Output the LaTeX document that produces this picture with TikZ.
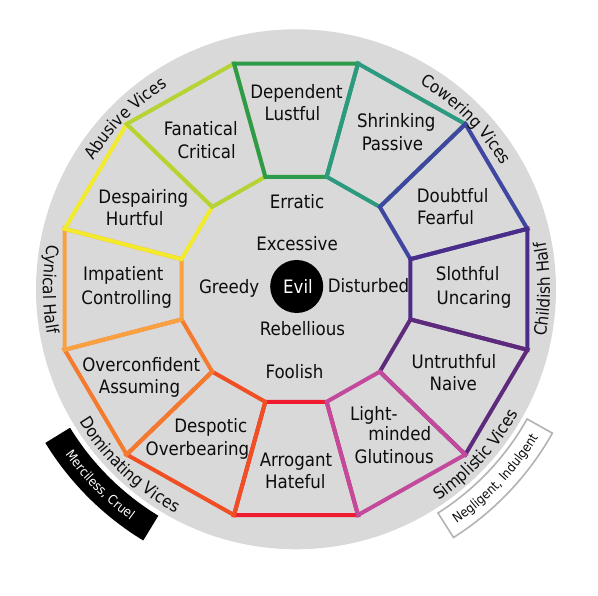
\documentclass[tikz,border=0pt]{standalone}
\usepackage{fontspec}
\setmainfont{DejaVu Sans Condensed}
\usetikzlibrary{decorations.text}
\definecolor{disk}{HTML}{D9D9D9}
\definecolor{ink}{HTML}{0D0D0D}
\definecolor{bandline}{HTML}{B3B3B3}
\definecolor{cDep}{HTML}{2E9B4A}
\definecolor{cShr}{HTML}{2B9A7E}
\definecolor{cDou}{HTML}{3F47A0}
\definecolor{cSlo}{HTML}{4A2C8A}
\definecolor{cUnt}{HTML}{5E2A7C}
\definecolor{cLig}{HTML}{C2499C}
\definecolor{cArr}{HTML}{EE1C2E}
\definecolor{cDes}{HTML}{F04E23}
\definecolor{cOvc}{HTML}{F47A2D}
\definecolor{cImp}{HTML}{F9A040}
\definecolor{cDsp}{HTML}{F3EA2B}
\definecolor{cFan}{HTML}{B5D334}
\newcommand\mainsize{\fontsize{18.5}{22}\selectfont}
\newcommand\rimsize{\fontsize{17}{20}\selectfont}
\newcommand\bandsize{\fontsize{13}{15}\selectfont}
\tikzset{
  cell/.style={line width=4pt, line join=miter},
  lbl/.style={font=\mainsize, anchor=base, inner sep=0pt, text=ink},
  rimtext/.style={decorate, decoration={text along path, text align=center, text={|\rimsize\color{ink}|#1}}},
  bandtext/.style 2 args={decorate, decoration={text along path, text align=center, text={|\bandsize\color{#1}|#2}}},
}
\begin{document}
\begin{tikzpicture}[x=1pt,y=1pt]
\useasboundingbox (-296,-306.7) rectangle (302,289.3);
% disk
\fill[disk] (0,0) circle[radius=260pt];
% side bands
\fill[black] (211.5:265) arc[start angle=211.5,end angle=238.7,radius=265pt]
  -- (238.7:294) arc[start angle=238.7,end angle=211.5,radius=294pt] -- cycle;
\filldraw[fill=white, draw=bandline, line width=1.6pt] (302.4:265) arc[start angle=302.4,end angle=330.7,radius=265pt]
  -- (330.7:294) arc[start angle=330.7,end angle=302.4,radius=294pt] -- cycle;
% dodecagon cells
\foreach \a/\c in {-105/cArr,-135/cDes,-165/cOvc,165/cImp,135/cDsp,105/cFan,75/cDep,45/cShr,15/cDou,-15/cSlo,-45/cUnt,-75/cLig}{
  \draw[cell, draw=\c] ({239.5*cos(\a)},{233.7*sin(\a)}) -- ({239.5*cos(\a+30)},{233.7*sin(\a+30)})
    -- ({118.5*cos(\a+30)},{116.5*sin(\a+30)}) -- ({118.5*cos(\a)},{116.5*sin(\a)}) -- cycle;
}
% centre
\node[circle, fill=black, minimum size=53pt, inner sep=0pt] (evilc) at (0.7,2.8) {};
\node[lbl, text=white] (evil) at (2,-4.3) {Evil};
\node[lbl] (erratic) at (1,81.0) {Erratic};
\node[lbl] (excessive) at (1,38.7) {Excessive};
\node[lbl] (greedy) at (-66.8,-4.3) {Greedy};
\node[lbl] (disturbed) at (72.5,-3.3) {Disturbed};
\node[lbl] (rebellious) at (6.5,-46.3) {Rebellious};
\node[lbl] (foolish) at (-1.5,-89.3) {Foolish};
% cell labels
\node[lbl] (dep1) at (0.5,191.0) {Dependent};
\node[lbl] (dep2) at (-3.5,168.7) {Lustful};
\node[lbl] (shr1) at (100.3,161.4) {Shrinking};
\node[lbl] (shr2) at (96.5,139.0) {Passive};
\node[lbl] (dou1) at (156.7,86.9) {Doubtful};
\node[lbl] (dou2) at (149.5,64.5) {Fearful};
\node[lbl] (slo1) at (171.7,8.5) {Slothful};
\node[lbl] (slo2) at (178,-14.9) {Uncaring};
\node[lbl] (unt1) at (158,-78.8) {Untruthful};
\node[lbl] (unt2) at (157.3,-101.5) {Naive};
\node[lbl] (lig1) at (77.8,-130.8) {Light-};
\node[lbl] (lig2) at (103.7,-151.5) {minded};
\node[lbl] (lig3) at (98.2,-173.8) {Glutinous};
\node[lbl] (arr1) at (0,-177.5) {Arrogant};
\node[lbl] (arr2) at (-0.7,-199.5) {Hateful};
\node[lbl] (des1) at (-85.2,-143.6) {Despotic};
\node[lbl] (des2) at (-98.5,-166.1) {Overbearing};
\node[lbl] (ovc1) at (-154.7,-82.1) {Overconfident};
\node[lbl] (ovc2) at (-156.5,-104.1) {Assuming};
\node[lbl] (imp1) at (-172.7,8.5) {Impatient};
\node[lbl] (imp2) at (-169.3,-14.8) {Controlling};
\node[lbl] (dsp1) at (-152.7,86.0) {Despairing};
\node[lbl] (dsp2) at (-161.3,64.2) {Hurtful};
\node[lbl] (fan1) at (-95.2,153.5) {Fanatical};
\node[lbl] (fan2) at (-89.3,130.9) {Critical};
% rim labels
\path[rimtext={Abusive Vices}] (175:240) arc[start angle=175,end angle=95,radius=240pt];
\path[rimtext={Cowering Vices}] (85:240) arc[start angle=85,end angle=5,radius=240pt];
\path[rimtext={Childish Half}] (-40:254) arc[start angle=-40,end angle=40,radius=254pt];
\path[rimtext={Cynical Half}] (140:253) arc[start angle=140,end angle=220,radius=253pt];
\path[rimtext={Dominating Vices}] (186.5:254) arc[start angle=186.5,end angle=266.5,radius=254pt];
\path[rimtext={Simplistic Vices}] (-82.6:255) arc[start angle=-82.6,end angle=-2.6,radius=255pt];
\path[bandtext={white}{Merciless, Cruel}] (185:284) arc[start angle=185,end angle=265,radius=284pt];
\path[bandtext={ink}{Negligent, Indulgent}] (-83.5:284) arc[start angle=-83.5,end angle=-3.5,radius=284pt];
\end{tikzpicture}
\end{document}
